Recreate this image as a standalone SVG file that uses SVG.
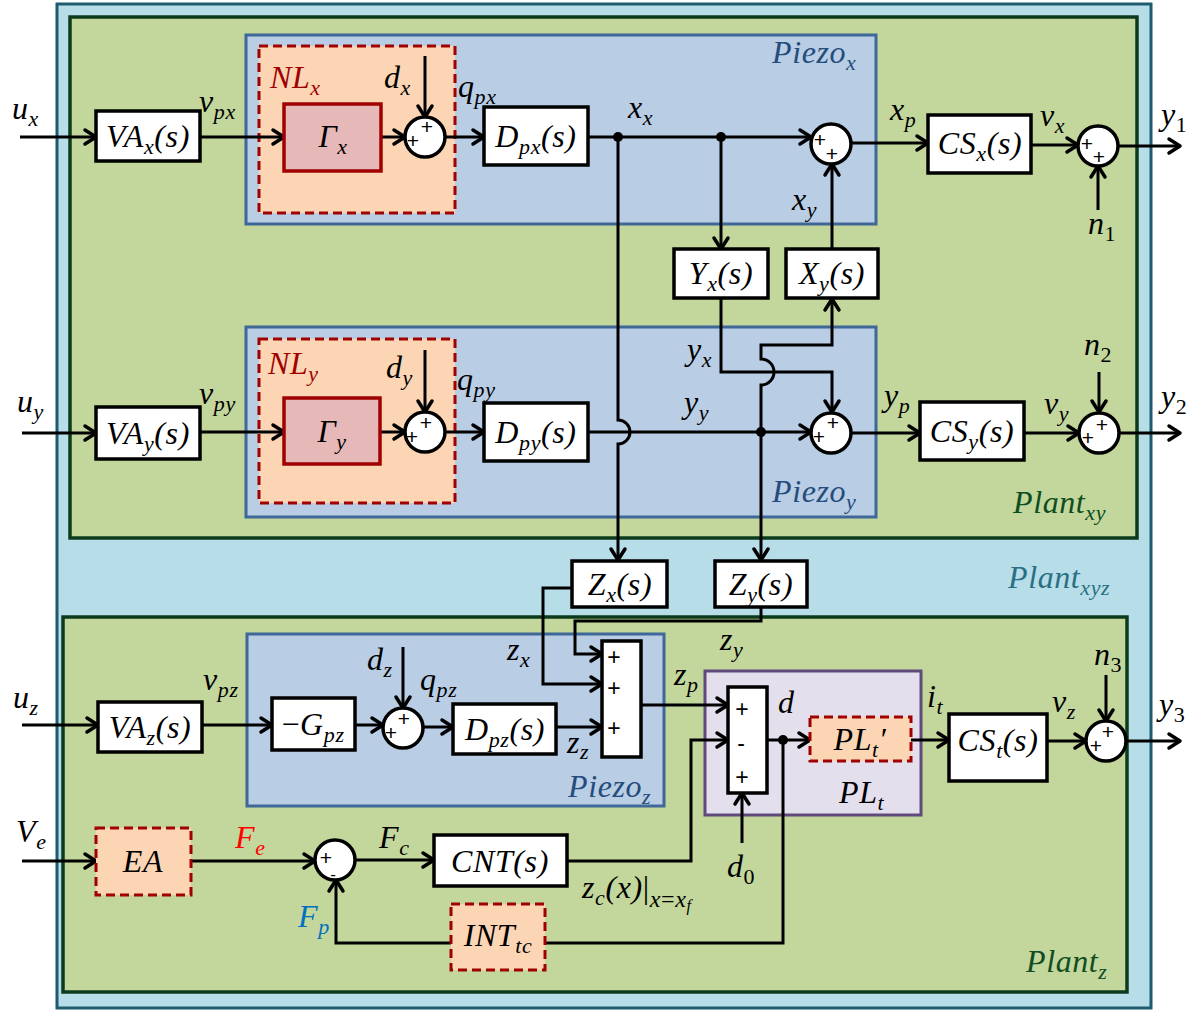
<svg xmlns="http://www.w3.org/2000/svg" width="1202" height="1010" viewBox="0 0 1202 1010">
<style>
.ob{fill:#b7dee8;stroke:#1f5b6e;stroke-width:3}
.gb{fill:#c3d69b;stroke:#0c3b1c;stroke-width:3.5}
.pb{fill:#b9cde5;stroke:#3f6797;stroke-width:3}
.nl{fill:#fcd5b5;stroke:#a00000;stroke-width:3;stroke-dasharray:9 5}
.gm{fill:#e6b9b8;stroke:#a00000;stroke-width:3.5}
.bx{fill:#fff;stroke:#000;stroke-width:3.5}
.pl{fill:#e4dfec;stroke:#5f4a7b;stroke-width:3}
.sc{fill:#fff;stroke:#000;stroke-width:3.5}
.c{fill:none;stroke:#000;stroke-width:3}
.a{marker-end:url(#ah)}
.t{font-family:"Liberation Serif",serif;font-style:italic;font-size:32px;letter-spacing:0.6px;fill:#000}
.m{text-anchor:middle}
.sub{font-size:22px}
.up{font-style:normal}
.sg{font-family:"Liberation Sans",sans-serif;font-size:21px;text-anchor:middle;dominant-baseline:central}
.dot{fill:#000}
</style>
<defs>
<marker id="ah" markerUnits="userSpaceOnUse" markerWidth="18" markerHeight="20" refX="14" refY="10" orient="auto">
<path d="M3,3 L14,10 L3,17" fill="none" stroke="#000" stroke-width="3.5" stroke-linejoin="round" stroke-linecap="round"/>
</marker>
</defs>

<g id="containers">
<rect id="plant_xyz" class="ob" x="57" y="4" width="1094" height="1004"/>
<rect id="plant_xy" class="gb" x="70" y="17" width="1067" height="521"/>
<rect id="piezo_x" class="pb" x="246" y="35" width="630" height="189"/>
<rect id="nl_x" class="nl" x="259" y="46" width="196" height="167"/>
<rect id="piezo_y" class="pb" x="246" y="327" width="630" height="190"/>
<rect id="nl_y" class="nl" x="259" y="339" width="196" height="164"/>
<rect id="plant_z" class="gb" x="63" y="617" width="1064" height="375"/>
<rect id="piezo_z" class="pb" x="247" y="634" width="417" height="172"/>
<rect id="pl_t" class="pl" x="705" y="671" width="216" height="144"/>
</g>

<g id="connectors">
<path class="c a" d="M20,137 H96"/>
<path class="c a" d="M200,137 H284"/>
<path class="c a" d="M381,137 H405"/>
<path class="c a" d="M425,56 V117"/>
<path class="c a" d="M445,137 H484"/>
<path class="c a" d="M588,137 H811"/>
<path class="c a" d="M618,137 V420 A12,12 0 0 1 618,444 V560"/>
<path class="c a" d="M721,137 V249"/>
<path class="c a" d="M832,249 V164"/>
<path class="c a" d="M850,143 H928"/>
<path class="c a" d="M1031,145 H1078"/>
<path class="c a" d="M1098,210 V166"/>
<path class="c a" d="M1118,146 H1180"/>
<path class="c a" d="M22,433 H96"/>
<path class="c a" d="M200,432 H284"/>
<path class="c a" d="M380,432 H405"/>
<path class="c a" d="M425,350 V412"/>
<path class="c a" d="M445,432 H484"/>
<path class="c a" d="M588,432 H811"/>
<path class="c a" d="M761,432 V385 A13,13 0 0 0 761,359 V345 H832 V299"/>
<path class="c a" d="M761,432 V560"/>
<path class="c a" d="M721,298 V372 H832 V412"/>
<path class="c a" d="M851,433 H920"/>
<path class="c a" d="M1024,433 H1079"/>
<path class="c a" d="M1099,372 V412"/>
<path class="c a" d="M1119,433 H1180"/>
<path class="c a" d="M572,588 H543 V684 H602"/>
<path class="c a" d="M761,607 V621 H575 V654 H602"/>
<path class="c a" d="M22,725 H98"/>
<path class="c a" d="M202,725 H272"/>
<path class="c a" d="M355,725 H383"/>
<path class="c a" d="M403,647 V708"/>
<path class="c a" d="M423,727 H453"/>
<path class="c a" d="M556,727 H602"/>
<path class="c a" d="M641,705 H728"/>
<path class="c a" d="M567,861 H691 V740 H728"/>
<path class="c a" d="M742,843 V793"/>
<path class="c a" d="M767,740 H810"/>
<path class="c" d="M783,740 V943 H546"/>
<path class="c a" d="M911,740 H949"/>
<path class="c a" d="M1047,741 H1086"/>
<path class="c a" d="M1106,675 V721"/>
<path class="c a" d="M1126,741 H1180"/>
<path class="c a" d="M22,861 H96"/>
<path class="c a" d="M191,861 H315"/>
<path class="c a" d="M355,860 H434"/>
<path class="c a" d="M451,943 H336 V880"/>
<circle class="dot" cx="618" cy="137" r="5"/>
<circle class="dot" cx="721" cy="137" r="5"/>
<circle class="dot" cx="761" cy="432" r="5"/>
<circle class="dot" cx="783" cy="740" r="5"/>
</g>

<g id="VAx"><rect class="bx" x="96" y="111" width="104" height="50"/><text class="t m" x="148" y="147">VA<tspan class="sub" dy="7">x</tspan><tspan dy="-7">(s)</tspan></text></g>
<g id="Gx"><rect class="gm" x="284" y="104" width="97" height="67"/><text class="t m" x="333" y="147">Γ<tspan class="sub" dy="7">x</tspan></text></g>
<g id="Sx1"><circle class="sc" cx="425" cy="137" r="20"/><text class="sg" x="427" y="126">+</text><text class="sg" x="413" y="140">+</text></g>
<g id="Dpx"><rect class="bx" x="484" y="107" width="104" height="58"/><text class="t m" x="536" y="147">D<tspan class="sub" dy="7">px</tspan><tspan dy="-7">(s)</tspan></text></g>
<g id="Yx"><rect class="bx" x="674" y="249" width="94" height="49"/><text class="t m" x="721" y="284">Y<tspan class="sub" dy="7">x</tspan><tspan dy="-7">(s)</tspan></text></g>
<g id="Xy"><rect class="bx" x="786" y="249" width="92" height="49"/><text class="t m" x="832" y="284">X<tspan class="sub" dy="7">y</tspan><tspan dy="-7">(s)</tspan></text></g>
<g id="Sxp"><circle class="sc" cx="831" cy="144" r="20"/><text class="sg" x="820" y="139">+</text><text class="sg" x="832" y="153">+</text></g>
<g id="CSx"><rect class="bx" x="928" y="115" width="103" height="58"/><text class="t m" x="980" y="154">CS<tspan class="sub" dy="7">x</tspan><tspan dy="-7">(s)</tspan></text></g>
<g id="S1"><circle class="sc" cx="1098" cy="146" r="20"/><text class="sg" x="1087" y="143">+</text><text class="sg" x="1099" y="156">+</text></g>

<g id="VAy"><rect class="bx" x="96" y="407" width="104" height="52"/><text class="t m" x="148" y="444">VA<tspan class="sub" dy="7">y</tspan><tspan dy="-7">(s)</tspan></text></g>
<g id="Gy"><rect class="gm" x="284" y="398" width="96" height="66"/><text class="t m" x="332" y="442">Γ<tspan class="sub" dy="7">y</tspan></text></g>
<g id="Sy1"><circle class="sc" cx="425" cy="432" r="20"/><text class="sg" x="426" y="422">+</text><text class="sg" x="412" y="436">+</text></g>
<g id="Dpy"><rect class="bx" x="484" y="403" width="104" height="58"/><text class="t m" x="536" y="443">D<tspan class="sub" dy="7">py</tspan><tspan dy="-7">(s)</tspan></text></g>
<g id="Syp"><circle class="sc" cx="831" cy="433" r="20"/><text class="sg" x="833" y="422">+</text><text class="sg" x="819" y="436">+</text></g>
<g id="CSy"><rect class="bx" x="920" y="402" width="104" height="58"/><text class="t m" x="972" y="442">CS<tspan class="sub" dy="7">y</tspan><tspan dy="-7">(s)</tspan></text></g>
<g id="S2"><circle class="sc" cx="1099" cy="433" r="20"/><text class="sg" x="1102" y="424">+</text><text class="sg" x="1088" y="437">+</text></g>

<g id="Zx"><rect class="bx" x="572" y="561" width="95" height="46"/><text class="t m" x="620" y="595">Z<tspan class="sub" dy="7">x</tspan><tspan dy="-7">(s)</tspan></text></g>
<g id="Zy"><rect class="bx" x="715" y="561" width="92" height="46"/><text class="t m" x="761" y="595">Z<tspan class="sub" dy="7">y</tspan><tspan dy="-7">(s)</tspan></text></g>

<g id="VAz"><rect class="bx" x="98" y="702" width="104" height="50"/><text class="t m" x="150" y="738">VA<tspan class="sub" dy="7">z</tspan><tspan dy="-7">(s)</tspan></text></g>
<g id="Gpz"><rect class="bx" x="272" y="698" width="83" height="52"/><text class="t m" x="313" y="735"><tspan class="up">−</tspan>G<tspan class="sub" dy="7">pz</tspan></text></g>
<g id="Sz1"><circle class="sc" cx="403" cy="728" r="20"/><text class="sg" x="404" y="718">+</text><text class="sg" x="391" y="732">+</text></g>
<g id="Dpz"><rect class="bx" x="453" y="704" width="103" height="50"/><text class="t m" x="505" y="740">D<tspan class="sub" dy="7">pz</tspan><tspan dy="-7">(s)</tspan></text></g>
<g id="Sumz"><rect class="bx" x="602" y="641" width="39" height="116"/><text class="sg" x="614" y="657" style="font-size:23px">+</text><text class="sg" x="614" y="688" style="font-size:23px">+</text><text class="sg" x="614" y="728" style="font-size:23px">+</text></g>
<g id="Sumd"><rect class="bx" x="728" y="687" width="39" height="106"/><text class="sg" x="742" y="709" style="font-size:23px">+</text><text class="sg" x="741" y="743" style="font-size:23px">-</text><text class="sg" x="742" y="777" style="font-size:23px">+</text></g>
<g id="PLtp"><rect class="nl" x="810" y="717" width="101" height="44"/><text class="t m" x="860" y="750">PL<tspan class="sub" dy="7">t</tspan><tspan dy="-7">′</tspan></text></g>
<g id="CSt"><rect class="bx" x="949" y="714" width="98" height="67"/><text class="t m" x="998" y="751">CS<tspan class="sub" dy="7">t</tspan><tspan dy="-7">(s)</tspan></text></g>
<g id="S3"><circle class="sc" cx="1106" cy="741" r="20"/><text class="sg" x="1108" y="731">+</text><text class="sg" x="1096" y="745">+</text></g>

<g id="EA"><rect class="nl" x="96" y="828" width="95" height="67"/><text class="t m" x="143" y="872">EA</text></g>
<g id="SF"><circle class="sc" cx="335" cy="860" r="20"/><text class="sg" x="326" y="857">+</text><text class="sg" x="333" y="874" style="font-size:17px">-</text></g>
<g id="CNT"><rect class="bx" x="434" y="835" width="133" height="51"/><text class="t m" x="500" y="872">CNT(s)</text></g>
<g id="INT"><rect class="nl" x="451" y="904" width="94" height="66"/><text class="t m" x="498" y="946">INT<tspan class="sub" dy="7">tc</tspan></text></g>

<g id="labels">
<text class="t" x="12" y="119">u<tspan class="sub" dy="7">x</tspan></text>
<text class="t" x="199" y="112">v<tspan class="sub" dy="7">px</tspan></text>
<text class="t" x="270" y="88" style="fill:#a00000">NL<tspan class="sub" dy="7">x</tspan></text>
<text class="t" x="384" y="88">d<tspan class="sub" dy="7">x</tspan></text>
<text class="t" x="458" y="97">q<tspan class="sub" dy="7">px</tspan></text>
<text class="t" x="628" y="118">x<tspan class="sub" dy="7">x</tspan></text>
<text class="t" x="772" y="63" style="fill:#244c7c">Piezo<tspan class="sub" dy="7">x</tspan></text>
<text class="t" x="890" y="120">x<tspan class="sub" dy="7">p</tspan></text>
<text class="t" x="1040" y="126">v<tspan class="sub" dy="7">x</tspan></text>
<text class="t" x="1161" y="125">y<tspan class="sub up" dy="7">1</tspan></text>
<text class="t" x="792" y="210">x<tspan class="sub" dy="7">y</tspan></text>
<text class="t" x="1088" y="234">n<tspan class="sub up" dy="7">1</tspan></text>

<text class="t" x="17" y="412">u<tspan class="sub" dy="7">y</tspan></text>
<text class="t" x="199" y="404">v<tspan class="sub" dy="7">py</tspan></text>
<text class="t" x="268" y="374" style="fill:#a00000">NL<tspan class="sub" dy="7">y</tspan></text>
<text class="t" x="386" y="378">d<tspan class="sub" dy="7">y</tspan></text>
<text class="t" x="457" y="390">q<tspan class="sub" dy="7">py</tspan></text>
<text class="t" x="687" y="360">y<tspan class="sub" dy="7">x</tspan></text>
<text class="t" x="684" y="413">y<tspan class="sub" dy="7">y</tspan></text>
<text class="t" x="884" y="406">y<tspan class="sub" dy="7">p</tspan></text>
<text class="t" x="1044" y="414">v<tspan class="sub" dy="7">y</tspan></text>
<text class="t" x="1084" y="355">n<tspan class="sub up" dy="7">2</tspan></text>
<text class="t" x="1161" y="407">y<tspan class="sub up" dy="7">2</tspan></text>
<text class="t" x="772" y="502" style="fill:#244c7c">Piezo<tspan class="sub" dy="7">y</tspan></text>
<text class="t" x="1013" y="513" style="fill:#0f4d22">Plant<tspan class="sub" dy="7">xy</tspan></text>

<text class="t" x="1008" y="588" style="fill:#2b6f84">Plant<tspan class="sub" dy="7">xyz</tspan></text>
<text class="t" x="507" y="660">z<tspan class="sub" dy="7">x</tspan></text>
<text class="t" x="720" y="650">z<tspan class="sub" dy="7">y</tspan></text>
<text class="t" x="674" y="685">z<tspan class="sub" dy="7">p</tspan></text>
<text class="t" x="778" y="713">d</text>
<text class="t" x="13" y="708">u<tspan class="sub" dy="7">z</tspan></text>
<text class="t" x="203" y="690">v<tspan class="sub" dy="7">pz</tspan></text>
<text class="t" x="367" y="670">d<tspan class="sub" dy="7">z</tspan></text>
<text class="t" x="420" y="690">q<tspan class="sub" dy="7">pz</tspan></text>
<text class="t" x="567" y="753">z<tspan class="sub" dy="6">z</tspan></text>
<text class="t" x="568" y="797" style="fill:#244c7c">Piezo<tspan class="sub" dy="7">z</tspan></text>
<text class="t" x="927" y="707">i<tspan class="sub" dy="7">t</tspan></text>
<text class="t" x="1052" y="712">v<tspan class="sub" dy="7">z</tspan></text>
<text class="t" x="1094" y="665">n<tspan class="sub up" dy="7">3</tspan></text>
<text class="t" x="1159" y="715">y<tspan class="sub up" dy="7">3</tspan></text>
<text class="t" x="839" y="803">PL<tspan class="sub" dy="7">t</tspan></text>
<text class="t" x="727" y="877">d<tspan class="sub up" dy="7">0</tspan></text>
<text class="t" x="582" y="898">z<tspan class="sub" dy="7">c</tspan><tspan dy="-7">(x)<tspan class="up">|</tspan></tspan><tspan class="sub" dy="9" style="font-size:24px">x<tspan class="up">=</tspan>x</tspan><tspan style="font-size:16px" dy="4">f</tspan></text>

<text class="t" x="16" y="842">V<tspan class="sub" dy="7">e</tspan></text>
<text class="t" x="235" y="848" style="fill:#ff0000">F<tspan class="sub" dy="7">e</tspan></text>
<text class="t" x="379" y="848">F<tspan class="sub" dy="7">c</tspan></text>
<text class="t" x="298" y="927" style="fill:#0070c0">F<tspan class="sub" dy="7">p</tspan></text>
<text class="t" x="1026" y="972" style="fill:#0f4d22">Plant<tspan class="sub" dy="7">z</tspan></text>
</g>
</svg>
